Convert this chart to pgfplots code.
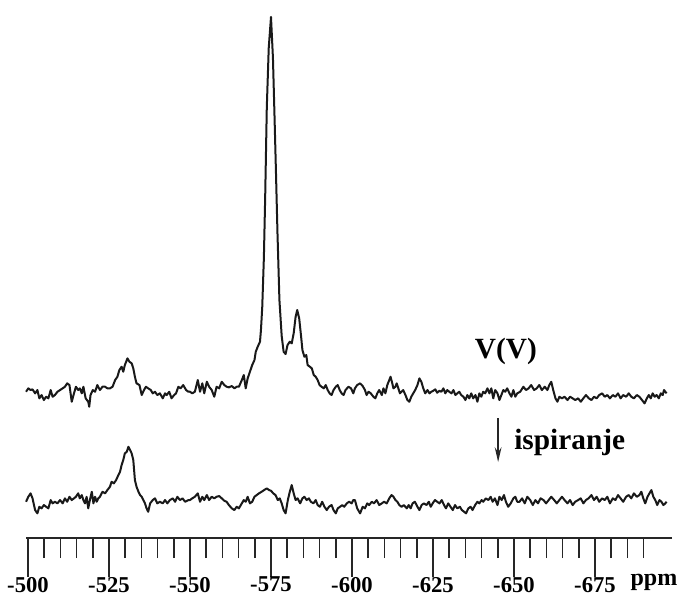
\documentclass[border=0pt]{standalone}
\usepackage{fontspec}
\setmainfont{Liberation Serif}
\usepackage{pgfplots}
\pgfplotsset{compat=1.18}
\usetikzlibrary{arrows.meta}

% 51V NMR spectra: before (upper) and after rinsing (lower)
\pgfplotstableread{
ppm I
-499.4 206.3
-500.1 209.7
-500.8 208
-501.4 208.7
-502.2 204.7
-502.9 208
-503.5 199.7
-504.2 203
-504.9 198
-505.6 201.3
-506.3 199.7
-507.0 208
-507.6 201.3
-508.3 203
-509.1 206.3
-509.9 208
-510.7 209.7
-511.4 211.3
-512.1 214.7
-512.8 213
-513.5 196.3
-514.2 204.7
-514.8 211.3
-515.5 208
-516.0 209.7
-516.6 204.7
-517.1 211.3
-517.8 199.7
-518.6 196.3
-518.9 191.3
-519.3 203
-520.0 208
-520.7 206.3
-521.4 213
-522.2 208
-523.0 211.3
-523.8 211.3
-524.5 209.7
-525.3 209.7
-526.1 211.3
-526.9 218
-527.6 221.3
-528.2 228
-528.9 231.3
-529.4 226.3
-529.9 233
-530.7 239.7
-531.3 236.3
-532.0 234.7
-532.5 229.7
-533.0 221.3
-533.5 214.7
-534.4 213
-535.1 203
-535.8 208
-536.4 211.3
-537.1 209.7
-537.9 208
-538.5 204.7
-539.2 206.3
-539.9 203
-540.7 204.7
-541.6 199.7
-542.3 204.7
-542.8 203
-543.6 206.3
-544.3 199.7
-545.1 203
-545.7 204.7
-546.4 211.3
-547.1 209.7
-547.9 213
-548.8 208
-549.5 206.3
-550.0 206.3
-550.7 204.7
-551.5 206.3
-552.4 218
-553.1 206.3
-553.8 214.7
-554.4 204.7
-555.2 216.3
-555.9 211.3
-556.7 208
-557.5 201.3
-558.2 211.3
-559.0 209.7
-559.8 216.3
-560.6 213
-561.3 211.3
-562.0 210.7
-562.9 212
-563.7 209.7
-564.4 211.3
-565.1 211.3
-566.0 218
-566.6 223
-567.2 209.7
-567.8 219.7
-568.5 226.3
-569.2 233
-569.9 238
-570.3 246.3
-570.9 251.3
-571.6 256.3
-571.9 268
-572.3 291
-572.8 340
-573.2 400
-573.7 490
-574.3 550
-575.0 581
-575.6 540
-576.1 480
-576.5 430
-577.0 365
-577.6 298
-578.3 262
-578.9 246.3
-579.5 244
-580.1 253
-580.8 256.3
-581.4 254.7
-582.0 264.7
-582.6 281.3
-583.1 288
-583.7 279.7
-584.3 261.3
-584.7 248
-585.3 241.3
-585.9 243
-586.3 233
-587.0 231.3
-587.6 229.7
-588.2 223
-588.8 221.3
-589.4 218
-590.0 213
-590.6 211.3
-591.3 209.7
-591.9 213
-592.5 208
-593.1 204.7
-593.7 203
-594.3 208
-595.0 211.3
-595.6 213
-596.2 208
-596.8 204.7
-597.4 203
-598.0 208
-598.9 211.3
-599.7 209.7
-600.4 204.7
-600.9 209.7
-601.6 213
-602.5 214.7
-603.3 212
-604.0 208
-604.5 203
-605.1 206.3
-605.8 204.7
-606.6 201.3
-607.2 199.7
-607.8 204.7
-608.4 208
-609.2 203
-609.7 209.7
-610.3 204.7
-610.9 213
-611.5 218
-611.9 221.3
-612.3 216.3
-612.8 209.7
-613.4 211.3
-613.8 214.7
-614.3 209.7
-614.8 204.7
-615.3 206.3
-615.8 208
-616.5 203
-617.1 198
-617.7 196.3
-618.3 201.3
-618.9 204.7
-619.5 208
-620.2 213
-620.8 219.7
-621.4 216.3
-622.0 209.7
-622.6 204.7
-623.3 208
-623.9 204.7
-624.5 206.3
-625.1 207.3
-625.7 208.7
-626.3 205.3
-627.0 207.3
-627.6 206.3
-628.2 209.7
-628.8 204.7
-629.4 208
-630.0 206.3
-630.7 204.7
-631.3 208
-631.9 203
-632.5 204.7
-633.1 206.3
-633.7 203
-634.4 201.3
-635.0 198
-635.6 203
-636.2 199.7
-636.8 204.7
-637.4 199.7
-638.1 203
-638.7 196.3
-639.3 204.7
-639.9 201.3
-640.5 206.3
-641.1 204.7
-641.8 209.7
-642.4 204.7
-643.0 209.7
-643.6 199.7
-644.2 208
-644.9 204.7
-645.5 198
-646.1 203
-646.7 208
-647.3 206.3
-647.9 209.7
-648.6 204.7
-649.2 201.3
-649.8 208
-650.4 201.3
-651.0 204.7
-651.9 206.3
-652.9 211.3
-653.7 208
-654.5 209.7
-655.3 213
-656.2 208
-657.0 209.7
-657.8 213
-658.6 208
-659.5 211.3
-660.3 208
-660.9 213
-661.5 216.3
-662.1 208
-662.8 199.7
-663.4 196.3
-664.0 201.3
-664.8 199.7
-665.6 201.3
-666.5 198
-667.3 201.3
-668.1 199.7
-668.9 198
-669.8 199.7
-670.6 196.3
-671.4 199.7
-672.2 203
-673.1 199.7
-673.9 198
-674.7 201.3
-675.5 199.7
-676.3 203
-677.2 204.7
-678.0 201.3
-678.8 203
-679.6 199.7
-680.5 203
-681.3 201.3
-682.1 204.7
-682.9 199.7
-683.7 203
-684.6 201.3
-685.4 204.7
-686.2 201.3
-687.0 199.7
-687.9 203
-688.7 201.3
-689.5 198
-690.3 194.7
-691.0 199.7
-691.6 203
-692.2 199.7
-692.8 204.7
-693.4 201.3
-694.0 203
-694.7 199.7
-695.3 204.7
-695.9 203
-696.3 208
-696.7 206.3
-697.1 204.7
}\before

\pgfplotstableread{
ppm I
-499.4 96.3
-500.1 101.3
-500.8 104.7
-501.4 99.7
-502.2 88
-502.9 84.7
-503.5 91.3
-504.2 89.7
-504.9 93
-505.6 91.3
-506.3 89.7
-507.0 98
-507.6 94.7
-508.3 96.3
-509.1 94.7
-509.9 98
-510.7 94.7
-511.4 99.7
-512.1 96.3
-512.8 101.3
-513.5 98
-514.2 99.7
-514.8 101.3
-515.5 104.7
-516.0 99.7
-516.6 103
-517.1 98
-517.6 94.7
-518.1 101.3
-518.6 89.7
-519.1 98
-519.7 106.3
-520.2 94.7
-520.7 101.3
-521.2 96.3
-521.7 99.7
-522.2 101.3
-523.0 106.3
-523.8 104.7
-524.5 108
-525.3 111.3
-525.8 116.3
-526.5 114.7
-527.2 118
-527.9 123
-528.4 126.3
-528.9 133
-529.4 138
-529.9 144.7
-530.5 146.3
-531.0 151.3
-531.5 148
-532.0 144.7
-532.5 138
-533.0 118
-533.5 111.3
-534.1 106.3
-534.6 103
-535.1 101.3
-535.6 98
-536.1 94.7
-536.6 89.7
-537.1 86.3
-537.7 94.7
-538.5 98
-539.2 99.7
-539.9 94.7
-540.7 96.3
-541.6 94.7
-542.3 98
-543.0 94.7
-543.8 98
-544.7 99.7
-545.4 96.3
-546.1 101.3
-546.9 98
-547.7 99.7
-548.5 96.3
-549.5 98
-550.0 98
-550.7 99.7
-551.5 101.3
-552.4 104.7
-553.1 96.3
-553.8 101.3
-554.4 98
-555.2 103
-555.9 98
-556.7 101.3
-557.5 99.7
-558.2 101.3
-559.0 102
-559.8 99.7
-560.6 97.3
-561.3 96.3
-562.0 93
-562.9 89.7
-563.7 88
-564.4 91.3
-565.1 89.7
-566.0 94.7
-566.6 98
-567.2 96.3
-567.8 101.3
-568.5 94.7
-569.2 96.3
-569.9 101.3
-570.6 103
-571.3 104.7
-572.1 106.3
-572.9 108
-573.7 109.7
-574.4 108
-575.0 107.3
-575.7 104.7
-576.4 103
-577.1 98
-577.7 99.7
-578.3 94.7
-578.9 88
-579.5 84.7
-580.2 98
-580.8 106.3
-581.4 113
-582.0 104.7
-582.6 98
-583.2 99.7
-584.0 94.7
-584.7 99.7
-585.3 101.3
-586.0 98
-586.7 99.7
-587.3 96.3
-588.1 94.7
-588.8 98
-589.4 93
-590.1 91.3
-590.8 96.3
-591.5 91.3
-592.2 88
-592.9 91.3
-593.7 93
-594.3 88
-595.0 84.7
-595.6 89.7
-596.3 91.3
-597.0 93
-597.6 91.3
-598.4 94.7
-599.1 96.3
-599.9 94.7
-600.4 98
-600.9 98
-601.6 89.7
-602.5 84.7
-603.3 91.3
-604.0 89.7
-604.7 94.7
-605.3 93
-606.1 96.3
-606.8 94.7
-607.6 98
-608.4 93
-609.2 94.7
-609.9 96.3
-610.7 94.7
-611.5 99.7
-612.2 103
-612.8 101.3
-613.4 98
-614.0 96.3
-614.6 93
-615.3 91.3
-616.0 93
-616.9 89.7
-617.5 93
-618.1 89.7
-618.7 94.7
-619.4 96.3
-620.2 91.3
-620.8 88
-621.5 93
-622.2 94.7
-623.0 93
-623.7 96.3
-624.3 91.3
-624.9 94.7
-625.6 98
-626.3 96.3
-627.0 94.7
-627.7 98
-628.4 93
-629.0 89.7
-629.7 94.7
-630.4 91.3
-631.1 88
-631.8 93
-632.5 89.7
-633.3 91.3
-633.9 88
-634.6 86.3
-635.2 84.7
-635.9 89.7
-636.6 91.3
-637.2 88
-638.0 93
-638.7 96.3
-639.3 94.7
-640.0 98
-640.5 96.3
-641.3 99.7
-642.1 98
-642.8 101.3
-643.4 96.3
-644.1 99.7
-644.9 93
-645.5 101.3
-646.2 98
-646.9 103
-647.5 96.3
-648.2 91.3
-649.0 94.7
-649.8 99.7
-650.4 101.3
-651.0 96.3
-651.7 96.3
-652.5 99.7
-653.3 94.7
-654.1 101.3
-655.0 98
-655.8 93
-656.6 98
-657.4 94.7
-658.2 99.7
-659.1 98
-659.9 94.7
-660.7 98
-661.5 101.3
-662.4 98
-663.2 94.7
-664.0 98
-664.8 101.3
-665.6 98
-666.5 94.7
-667.3 98
-668.1 93
-668.9 96.3
-669.8 98
-670.6 99.7
-671.4 94.7
-672.2 98
-673.0 99.7
-673.9 103
-674.7 98
-675.5 101.3
-676.3 96.3
-677.2 99.7
-678.0 98
-678.8 101.3
-679.6 94.7
-680.5 99.7
-681.3 98
-682.1 103
-682.9 99.7
-683.7 96.3
-684.6 101.3
-685.4 103
-686.2 99.7
-687.0 104.7
-687.9 101.3
-688.7 103
-689.3 106.3
-689.9 99.7
-690.5 94.7
-691.2 101.3
-691.8 104.7
-692.4 108
-693.0 101.3
-693.6 98
-694.2 93
-694.9 98
-695.5 96.3
-696.1 93
-696.7 94.7
-697.1 96.3
}\after

\begin{document}
\begin{tikzpicture}
\begin{axis}[
  scale only axis,
  width=484.5pt, height=403.5pt,
  xmin=-698.8, xmax=-499.4,
  ymin=60, ymax=598,
  x dir=reverse,
  axis x line=bottom,
  axis y line=none,
  x axis line style={-, line width=1.9pt, black!85},
  xtick={-500,-525,...,-675},
  xticklabels={-500,-525,-550,-575,-600,-625,-650,-675},
  minor xtick={-505,-510,...,-690},
  tick align=outside,
  major tick length=29pt,
  minor tick length=15pt,
  every tick/.style={line width=1.2pt, black!85},
  xticklabel style={font=\bfseries\fontsize{17}{17}\selectfont,
    anchor=north, inner sep=0pt},
  clip=false,
]
  \addplot[black!90, line width=1.5pt, line join=round] table[x=ppm, y=I] {\before};
  \addplot[black!90, line width=1.5pt, line join=round] table[x=ppm, y=I] {\after};

  \node[anchor=base, font=\bfseries\fontsize{22}{22}\selectfont]
    at (axis cs:-647.5,240) {V(V)};
  \draw[black!85, line width=1.4pt, -{Stealth[length=11pt, width=5pt]}]
    (axis cs:-645.1,180) -- (axis cs:-645.1,136);
  \node[anchor=base west, inner sep=0pt, font=\bfseries\fontsize{22}{22}\selectfont]
    at (axis cs:-650.0,149) {ispiranje};
  \node[anchor=base, inner sep=0pt, font=\bfseries\fontsize{18}{18}\selectfont]
    at (axis cs:-693.2,13) {ppm};

  \coordinate (bbsw) at (axis cs:-491.36,0);
  \coordinate (bbne) at (axis cs:-701.23,598);
\end{axis}
\pgfresetboundingbox
\path[use as bounding box] (bbsw) rectangle (bbne);
\end{tikzpicture}
\end{document}
